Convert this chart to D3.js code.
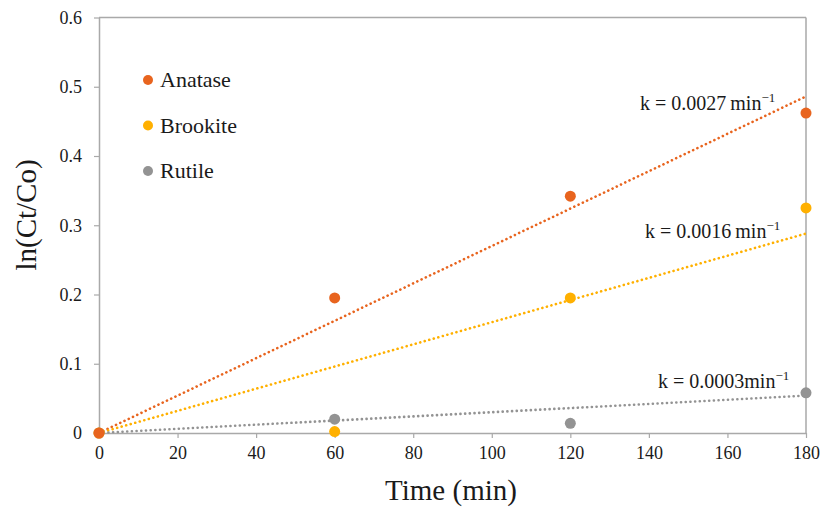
<!DOCTYPE html>
<html>
<head>
<meta charset="utf-8">
<script src="https://cdn.jsdelivr.net/npm/d3@7"></script>
<style>
  html, body { margin: 0; padding: 0; background: #fff; }
</style>
</head>
<body>
<svg id="chart" width="823" height="507"></svg>
<script>
// Reaction time (min)
const times = [0, 60, 120, 180];
// ln(Ct/Co) for each TiO2 phase
const anatase = [0, 0.195, 0.342, 0.462];
const brookite = [0, 0.002, 0.195, 0.325];
const rutile = [0, 0.020, 0.014, 0.058];
// Rate constants (min^-1) of the fitted lines through the origin
const rateK = [0.0027, 0.0016, 0.0003];
const rateLabels = ["k = 0.0027\u2009min", "k = 0.0016\u2009min", "k = 0.0003min"];
const seriesNames = ["Anatase", "Brookite", "Rutile"];
const seriesColors = ["#E8641E", "#FFB000", "#939393"];
const xTicks = [0, 20, 40, 60, 80, 100, 120, 140, 160, 180];
const yTicks = [0, 0.1, 0.2, 0.3, 0.4, 0.5, 0.6];

const seriesValues = [anatase, brookite, rutile];
const FONT = "'Liberation Serif', 'Times New Roman', serif";

const svg = d3.select("#chart").attr("font-family", FONT);
const margin = { left: 99, right: 17, top: 17.5, bottom: 74 };
const W = 823, H = 507;

const x = d3.scaleLinear().domain([0, 180]).range([margin.left, W - margin.right]);
const y = d3.scaleLinear().domain([0, 0.6]).range([H - margin.bottom, margin.top]);

const axisColor = "#a9a9a9";
const textColor = "#1a1a1a";

// frame lines (top and right)
svg.append("line").attr("x1", x(0)).attr("x2", x(180)).attr("y1", y(0.6)).attr("y2", y(0.6))
  .attr("stroke", axisColor).attr("stroke-width", 1.5);
svg.append("line").attr("x1", x(180)).attr("x2", x(180)).attr("y1", y(0.6)).attr("y2", y(0))
  .attr("stroke", axisColor).attr("stroke-width", 1.5);

// x axis
const gx = svg.append("g").attr("transform", `translate(0,${y(0)})`)
  .call(d3.axisBottom(x).tickValues(xTicks).tickSize(5).tickSizeOuter(0).tickPadding(8).tickFormat(d3.format("d")));
gx.attr("font-family", FONT).attr("font-size", 18);
gx.select(".domain").attr("stroke", axisColor).attr("stroke-width", 1.5);
gx.selectAll(".tick line").attr("stroke", axisColor).attr("stroke-width", 1.2);
gx.selectAll(".tick text").attr("fill", textColor);

// y axis
const gy = svg.append("g").attr("transform", `translate(${x(0)},0)`)
  .call(d3.axisLeft(y).tickValues(yTicks).tickSize(5).tickSizeOuter(0).tickPadding(12)
    .tickFormat(d => d === 0 ? "0" : d3.format(".1f")(d)));
gy.attr("font-family", FONT).attr("font-size", 18);
gy.select(".domain").attr("stroke", axisColor).attr("stroke-width", 1.5);
gy.selectAll(".tick line").attr("stroke", axisColor).attr("stroke-width", 1.2);
gy.selectAll(".tick text").attr("fill", textColor);

// axis titles
svg.append("text").attr("x", 451).attr("y", 500).attr("text-anchor", "middle")
  .attr("font-family", FONT).attr("font-size", 29).attr("fill", textColor).text("Time (min)");
svg.append("text").attr("transform", `translate(36,215) rotate(-90)`)
  .attr("text-anchor", "middle").attr("font-family", FONT).attr("font-size", 29)
  .attr("fill", textColor).text("ln(Ct/Co)");

// fitted lines ln(Ct/Co) = k t
const fitG = svg.append("g");
rateK.forEach((k, i) => {
  fitG.append("line")
    .attr("x1", x(0)).attr("y1", y(0))
    .attr("x2", x(180)).attr("y2", y(k * 180))
    .attr("stroke", seriesColors[i]).attr("stroke-width", 2.6)
    .attr("stroke-dasharray", "0.1 4.6").attr("stroke-linecap", "round");
});

// data points (drawn so the first series sits on top)
for (let i = seriesValues.length - 1; i >= 0; i--) {
  svg.append("g").selectAll("circle")
    .data(times.map((t, j) => ({ t, v: seriesValues[i][j] })))
    .join("circle")
    .attr("cx", d => x(d.t)).attr("cy", d => y(d.v)).attr("r", 5.5)
    .attr("fill", seriesColors[i]);
}

// rate-constant labels
const labelPos = [[640, 110], [645, 238], [658, 388]];
rateLabels.forEach((lab, i) => {
  const t = svg.append("text").attr("x", labelPos[i][0]).attr("y", labelPos[i][1])
    .attr("font-family", FONT).attr("font-size", 20).attr("fill", textColor);
  t.append("tspan").text(lab);
  t.append("tspan").attr("dy", -8).attr("font-size", 13).text("\u22121");
});

// legend
const leg = svg.append("g");
seriesNames.forEach((name, i) => {
  const cy = 80 + i * 45.5;
  leg.append("circle").attr("cx", 148).attr("cy", cy).attr("r", 5).attr("fill", seriesColors[i]);
  leg.append("text").attr("x", 160).attr("y", cy + 7).attr("font-family", FONT)
    .attr("font-size", 22).attr("fill", textColor).text(name);
});
</script>
</body>
</html>
